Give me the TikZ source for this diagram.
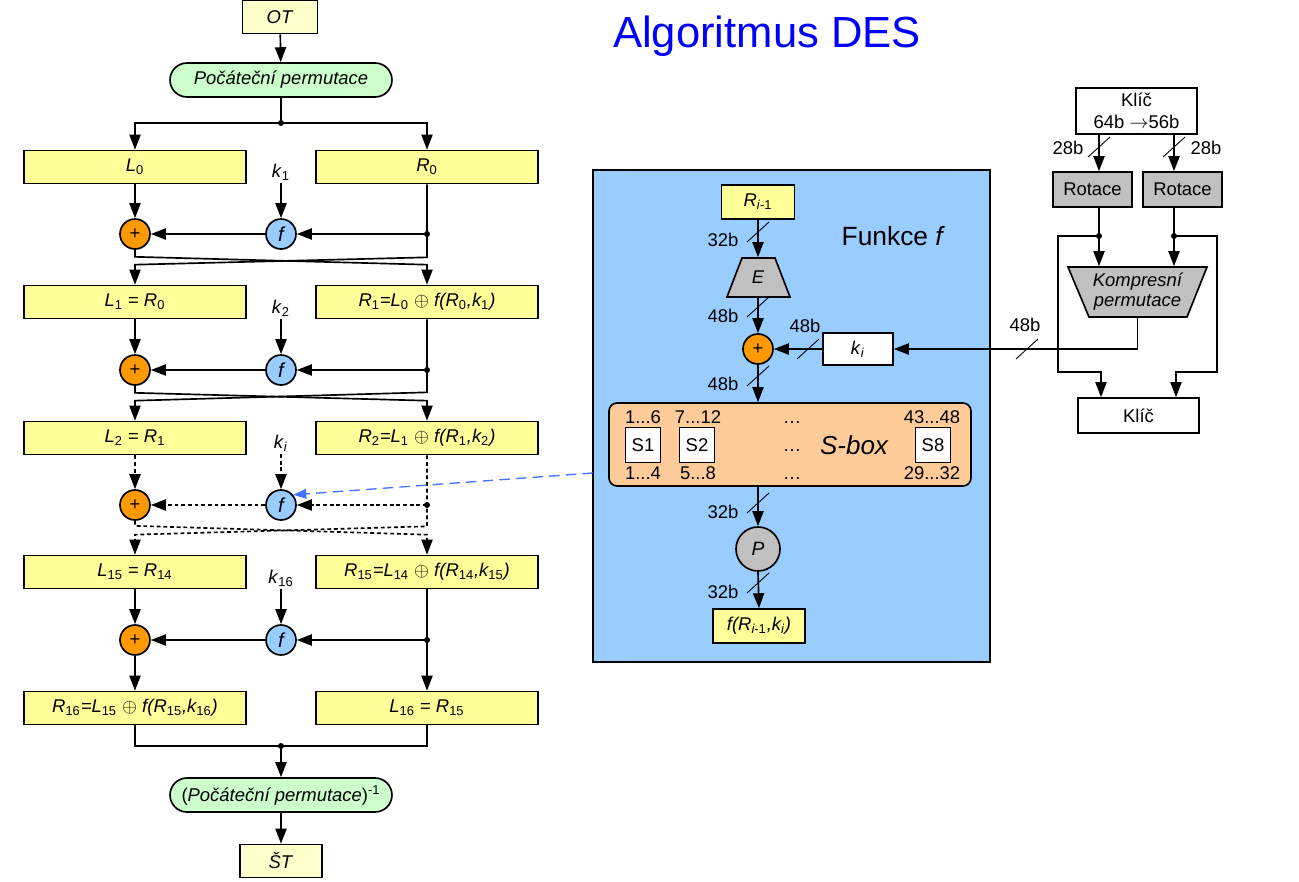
\documentclass[tikz,border=0pt]{standalone}
\usepackage{fontspec}
\setmainfont{Liberation Sans}
\usetikzlibrary{arrows.meta}
\definecolor{boxyellow}{HTML}{FFFF99}
\definecolor{paleyellow}{HTML}{FFFFCC}
\definecolor{permgreen}{HTML}{CCFFCC}
\definecolor{xororange}{HTML}{FF9900}
\definecolor{funblue}{HTML}{99CCFF}
\definecolor{sboxpeach}{HTML}{FFCC99}
\definecolor{permgray}{HTML}{C0C0C0}
\definecolor{linkblue}{HTML}{4272FF}
\newcommand{\sbs}[1]{\textsubscript{\upshape #1}}
\begin{document}
\begin{tikzpicture}[x=0.02cm,y=-0.02cm,
    font=\fontsize{10.5}{12.6}\selectfont,
    line width=0.95pt,
    >={Triangle[length=8.5pt,width=6.3pt]},
    half/.style={draw,fill=boxyellow,minimum width=4.44cm,minimum height=0.66cm,inner sep=0pt},
    endbox/.style={draw,fill=paleyellow,minimum height=0.66cm,inner sep=0pt},
    perm/.style={draw,fill=permgreen,rounded corners=0.34cm,minimum width=4.44cm,minimum height=0.68cm,inner sep=0pt},
    xor/.style={draw,circle,fill=xororange,minimum size=0.6cm,inner sep=0pt,font=\fontsize{10.5}{12}\selectfont},
    fcirc/.style={draw,circle,fill=funblue,minimum size=0.6cm,inner sep=0pt,font=\fontsize{11.5}{13}\selectfont\itshape},
    keylbl/.style={inner sep=1pt,anchor=south},
    graybox/.style={draw,fill=permgray,minimum width=1.58cm,minimum height=0.7cm,inner sep=0pt},
    whitebox/.style={draw,fill=white,inner sep=0pt},
    sb/.style={draw,fill=white,minimum size=0.7cm,inner sep=0pt},
    num/.style={anchor=base,inner sep=0pt},
    cut/.style={line width=0.5pt},
    dashline/.style={dash pattern=on 2.2pt off 1.6pt}]
\useasboundingbox (0,0) rectangle (1299,882);

% title
\node[anchor=base,text=blue,font=\fontsize{24.8}{29}\selectfont] (title) at (767,48) {Algoritmus DES};

% ---- rounds ----
\node[endbox,minimum width=1.5cm] (ot) at (280,17) {\textit{OT}};
\node[perm] (ip) at (281,80) {\textit{Počáteční permutace}};
\coordinate (m0) at (281,123);

\node[half] (L0) at (135,167) {\textit{L}\sbs{0}};
\node[half] (R0) at (427,167) {\textit{R}\sbs{0}};
\node[keylbl] (k1) at (281,183) {\textit{k}\sbs{1}};
\node[fcirc] (f1) at (281,234) {f};
\node[xor] (x1) at (135,234) {+};
\coordinate (j1) at (427,234);

\node[half] (L1) at (135,302) {\textit{L}\sbs{1} = \textit{R}\sbs{0}};
\node[half] (R1) at (427,302) {\itshape R\sbs{1}=L\sbs{0} \upshape$\oplus$ \itshape f(R\sbs{0},k\sbs{1})};
\node[keylbl] (k2) at (281,319) {\textit{k}\sbs{2}};
\node[fcirc] (f2) at (281,370) {f};
\node[xor] (x2) at (135,370) {+};
\coordinate (j2) at (427,370);

\node[half] (L2) at (135,438) {\textit{L}\sbs{2} = \textit{R}\sbs{1}};
\node[half] (R2) at (427,438) {\itshape R\sbs{2}=L\sbs{1} \upshape$\oplus$ \itshape f(R\sbs{1},k\sbs{2})};
\node[keylbl] (k3) at (281,454) {\textit{k}\textsubscript{\textit{i}}};
\node[fcirc] (f3) at (281,505) {f};
\node[xor] (x3) at (135,505) {+};
\coordinate (j3) at (427,505);

\node[half] (L15) at (135,572) {\textit{L}\sbs{15} = \textit{R}\sbs{14}};
\node[half] (R15) at (427,572) {\itshape R\sbs{15}=L\sbs{14} \upshape$\oplus$ \itshape f(R\sbs{14},k\sbs{15})};
\node[keylbl] (k4) at (281,589) {\textit{k}\sbs{16}};
\node[fcirc] (f4) at (281,640) {f};
\node[xor] (x4) at (135,640) {+};
\coordinate (j4) at (427,640);

\node[half] (R16) at (135,708) {\itshape R\sbs{16}=L\sbs{15} \upshape$\oplus$ \itshape f(R\sbs{15},k\sbs{16})};
\node[half] (L16) at (427,708) {\textit{L}\sbs{16} = \textit{R}\sbs{15}};
\coordinate (m1) at (281,746);
\node[perm] (iip) at (281,795) {({\itshape Počáteční permutace})\textsuperscript{-1}};
\node[endbox,minimum width=1.64cm] (st) at (281,861) {\textit{ŠT}};

\draw[->] (ot) -- (ip);
\draw (ip.south) -- (m0);
\draw[->] (m0) -| (L0.north);
\draw[->] (m0) -| (R0.north);
\fill (m0) circle[radius=1.7pt];

\draw[->] (L0) -- (x1);
\draw[->] (k1) -- (f1);
\draw[->] (j1) -- (f1);
\draw[->] (f1) -- (x1);
\fill (j1) circle[radius=1.7pt];
\draw[->] (R0.south) -- ++(0,73) -- ([yshift=0.4cm]L1.north) -- (L1.north);
\draw[->] (x1.south) -- ++(0,7) -- ([yshift=0.4cm]R1.north) -- (R1.north);

\draw[->] (L1) -- (x2);
\draw[->] (k2) -- (f2);
\draw[->] (j2) -- (f2);
\draw[->] (f2) -- (x2);
\fill (j2) circle[radius=1.7pt];
\draw[->] (R1.south) -- ++(0,73) -- ([yshift=0.4cm]L2.north) -- (L2.north);
\draw[->] (x2.south) -- ++(0,7) -- ([yshift=0.4cm]R2.north) -- (R2.north);

\draw[->,dashline] (L2) -- (x3);
\draw[->,dashline] (k3) -- (f3);
\draw[->,dashline] (j3) -- (f3);
\draw[->,dashline] (f3) -- (x3);
\fill (j3) circle[radius=1.7pt];
\draw[->,dashline] (R2.south) -- ++(0,71) -- ([yshift=0.4cm]L15.north) -- (L15.north);
\draw[->,dashline] (x3.south) -- ++(0,5) -- ([yshift=0.4cm]R15.north) -- (R15.north);

\draw[->] (L15) -- (x4);
\draw[->] (k4) -- (f4);
\draw[->] (j4) -- (f4);
\draw[->] (f4) -- (x4);
\fill (j4) circle[radius=1.7pt];
\draw[->] (R15) -- (L16);
\draw[->] (x4) -- (R16);

\draw (R16.south) |- (m1) -| (L16.south);
\fill (m1) circle[radius=1.7pt];
\draw[->] (m1) -- (iip);
\draw[->] (iip) -- (st);

% ---- function f ----
\node[draw,fill=funblue,minimum width=7.94cm,minimum height=9.84cm,inner sep=0pt] (fbox) at (791.5,416) {};
\node[anchor=west,font=\fontsize{15}{18}\selectfont] (ftitle) at (835,236) {Funkce \textit{f}};
\node[half,minimum width=1.46cm,minimum height=0.68cm] (rim) at (758,202) {\textit{R}\textsubscript{\textit{i}\upshape-1}};
\draw[fill=permgray] (727,297) -- (742,258) -- (775,258) -- (790,297) -- cycle;
\node[minimum height=0.78cm,inner sep=0pt] (E) at (758,277.5) {\textit{E}};
\node[xor] (x5) at (758,349) {+};
\node[whitebox,minimum width=1.4cm,minimum height=0.64cm] (ki) at (858,349) {\textit{k}\textsubscript{\textit{i}}};
\node[draw,fill=sboxpeach,rounded corners=0.16cm,minimum width=7.24cm,minimum height=1.66cm,inner sep=0pt] (sbox) at (790,444.5) {};
\node[sb] (s1) at (643,445) {S1};
\node[sb] (s2) at (697,445) {S2};
\node[sb] (s8) at (933,445) {S8};
\node[font=\fontsize{14.8}{17}\selectfont\itshape] (sname) at (854,445) {S-box};
\node[num] (n1) at (643,423) {1...6};
\node[num] (n2) at (698,423) {7...12};
\node[num] (n3) at (792,423) {…};
\node[num] (n4) at (932,423) {43...48};
\node[num] (n5) at (792,451) {…};
\node[num] (n6) at (643,479) {1...4};
\node[num] (n7) at (698,479) {5...8};
\node[num] (n8) at (792,479) {…};
\node[num] (n9) at (932,479) {29...32};
\node[draw,circle,fill=permgray,minimum size=0.88cm,inner sep=0pt,font=\fontsize{11}{13}\selectfont\itshape] (P) at (758,549) {P};
\node[half,minimum width=1.84cm,minimum height=0.68cm] (fout) at (759,626) {\itshape f(R\textsubscript{i\upshape-1},k\textsubscript{i})};

\draw[->] (rim.south) -- (E.north);
\draw[->] (E.south) -- (x5.north);
\draw[->] (ki) -- (x5);
\draw[->] (x5.south) -- (x5.south |- sbox.north);
\draw[->] (P.north |- sbox.south) -- (P.north);
\draw[->] (P.south) -- (fout.north);

\draw[cut] (758,232) +(-11,10) -- +(11,-10);
\draw[cut] (758,307) +(-11,10) -- +(11,-10);
\draw[cut] (758,376) +(-11,10) -- +(11,-10);
\draw[cut] (758,503) +(-11,10) -- +(11,-10);
\draw[cut] (758,583) +(-11,10) -- +(11,-10);
\draw[cut] (808,349) +(-11,10) -- +(11,-10);
\node (b1) at (723,240) {32b};
\node (b2) at (723,316) {48b};
\node (b3) at (723,384) {48b};
\node (b4) at (723,512) {32b};
\node (b5) at (723,592) {32b};
\node (b6) at (805,326) {48b};

\coordinate (lk) at (593,473);
\draw[linkblue,line width=0.75pt,dash pattern=on 6pt off 3.5pt,-{Triangle[length=7.5pt,width=5.5pt]}] (lk) -- (f3.40);

% ---- key schedule ----
\node[whitebox,minimum width=2.42cm,minimum height=0.92cm,align=center,font=\fontsize{10.5}{12.5}\selectfont] (key1) at (1136.5,111) {Klíč\\64b $\rightarrow$56b};
\node[graybox] (rot1) at (1092.5,189.5) {Rotace};
\node[graybox] (rot2) at (1182.5,189.5) {Rotace};
\draw[fill=permgray] (1068,267) -- (1207,267) -- (1187,317) -- (1089,317) -- cycle;
\node[minimum height=1.0cm,inner sep=0pt,align=center,font=\fontsize{10.5}{11.3}\selectfont\itshape] (komp) at (1137.5,292) {Kompresní\\permutace};
\node[whitebox,minimum width=2.42cm,minimum height=0.7cm] (key2) at (1138.5,415.5) {Klíč};
\coordinate (ka) at ([xshift=-0.75cm]key1.south);
\coordinate (kb) at ([xshift=0.75cm]key1.south);
\coordinate (kc) at ([xshift=-0.75cm]key2.north);
\coordinate (kd) at ([xshift=0.75cm]key2.north);
\coordinate (d3) at (1099,236);
\coordinate (d4) at (1174,236);

\draw[->] (ka) -- (ka |- rot1.north);
\draw[->] (kb) -- (kb |- rot2.north);
\draw (ka |- rot1.south) -- (d3);
\draw (kb |- rot2.south) -- (d4);
\draw[->] (d3) -- (d3 |- komp.north);
\draw[->] (d4) -- (d4 |- komp.north);
\fill (d3) circle[radius=1.7pt];
\fill (d4) circle[radius=1.7pt];
\draw[->] (d3) -| (1058,372) -| (kc);
\draw[->] (d4) -| (1217,372) -| (kd);
\draw[->] (komp.south) |- (ki.east);

\draw[cut] (1099,147) +(-11,10) -- +(11,-10);
\draw[cut] (1174,147) +(-11,10) -- +(11,-10);
\draw[cut] (1027,349) +(-11,10) -- +(11,-10);
\node (b7) at (1068,148) {28b};
\node (b8) at (1206,148) {28b};
\node (b9) at (1025,325) {48b};
\end{tikzpicture}
\end{document}
